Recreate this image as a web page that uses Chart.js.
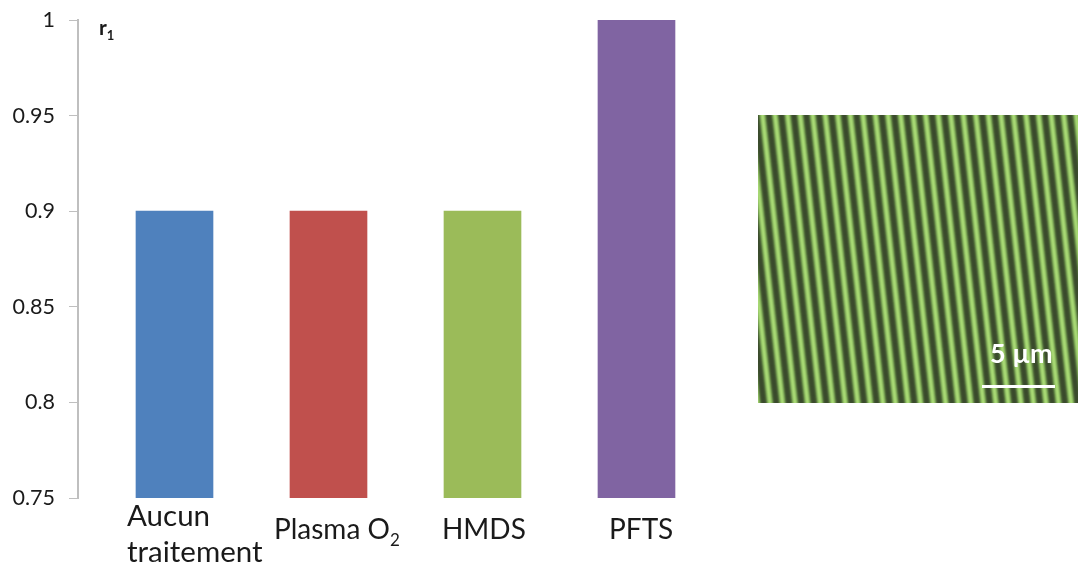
<!DOCTYPE html>
<html><head><meta charset="utf-8">
<style>html,body{margin:0;padding:0;background:#fff}#w{position:relative;width:1078px;height:565px}</style>
<script src="https://cdn.jsdelivr.net/npm/chart.js@4"></script>
</head><body><div id="w"><canvas id="c" width="1078" height="565"></canvas></div>
<script>
const categories = ['Aucun traitement', 'Plasma O2', 'HMDS', 'PFTS'];
const values = [0.9, 0.9, 0.9, 1];
const barColors = ['#4f81bd', '#c0504d', '#9bbb59', '#8064a2'];
const yTicks = [0.75, 0.8, 0.85, 0.9, 0.95, 1];
const FONT = 'Lato, "Open Sans", sans-serif';

function sub(ctx, main, s, x, y, size, weight) {
  ctx.font = (weight || '') + ' ' + size + 'px ' + FONT;
  ctx.textAlign = 'left'; ctx.textBaseline = 'alphabetic';
  ctx.fillText(main, x, y);
  const w = ctx.measureText(main).width;
  ctx.font = (weight || '') + ' ' + Math.round(size * 0.62) + 'px ' + FONT;
  ctx.fillText(s, x + w, y + size * 0.24);
}

const overlay = {
  id: 'overlay',
  afterDraw(chart) {
    const ctx = chart.ctx;
    ctx.save();
    ctx.fillStyle = '#1a1a1a';
    const S = 28, xs = chart.scales.x;
    const p = i => xs.getPixelForValue(i);
    ctx.textBaseline = 'alphabetic'; ctx.textAlign = 'left';
    ctx.font = '29.5px ' + FONT;
    const [a, b] = categories[0].split(' ');
    ctx.fillText(a, p(0) - 47.5, 526);
    ctx.fillText(b, p(0) - 47.5, 562);
    const m = categories[1];
    sub(ctx, m.slice(0, -1), m.slice(-1), p(1) - 54.5, 539, S);
    ctx.font = S + 'px ' + FONT;
    ctx.fillText(categories[2], p(2) - 40.5, 539);
    ctx.fillText(categories[3], p(3) - 27.5, 539);
    sub(ctx, 'r', '1', 99, 35, 21, 'bold');
    ctx.restore();

    // micrograph inset
    ctx.save();
    const X = 758, Y = 115, W = 320, H = 288;
    ctx.beginPath(); ctx.rect(X, Y, W, H); ctx.clip();
    ctx.fillStyle = '#3a4a2c'; ctx.fillRect(X, Y, W, H);
    ctx.filter = 'blur(0.8px)';
    const period = 12.55, slope = 0.113;
    for (let i = -6; i < 30; i++) {
      const x0 = 762.5 + i * period;
      const line = (lw, col) => {
        ctx.strokeStyle = col; ctx.lineWidth = lw; ctx.beginPath();
        ctx.moveTo(x0 - slope * 5, Y - 5); ctx.lineTo(x0 + slope * (H + 5), Y + H + 5); ctx.stroke();
      };
      line(6.5, '#6f9a4c');
      line(3.5, '#b0e27a');
    }
    ctx.filter = 'none';
    ctx.fillStyle = '#fff';
    ctx.font = 'bold 27px ' + FONT;
    ctx.textAlign = 'left';
    ctx.fillText('5 µm', 990, 363);
    ctx.fillRect(982, 385, 73, 3);
    ctx.restore();
  }
};

new Chart(document.getElementById('c'), {
  type: 'bar',
  data: { datasets: [{
    data: categories.map((c, i) => ({ x: i, y: values[i] })),
    backgroundColor: barColors, barThickness: 77, borderWidth: 0
  }]},
  plugins: [overlay],
  options: {
    responsive: false, animation: false,
    layout: { padding: { top: 20, bottom: 67 } },
    plugins: { legend: { display: false }, tooltip: { enabled: false } },
    scales: {
      x: { type: 'linear', offset: false, min: -0.6266, max: 5.867,
        display: false, grid: { display: false } },
      y: { min: 0.75, max: 1,
        afterBuildTicks: s => { s.ticks = yTicks.map(v => ({ value: v })); },
        afterFit: s => { s.width = 78; s.paddingTop = 0; s.paddingBottom = 0; },
        border: { color: '#bfbfbf', width: 2 },
        grid: { drawOnChartArea: false, color: '#bfbfbf', tickLength: 9, tickWidth: 1 },
        ticks: { padding: 14, color: '#1a1a1a', font: { family: FONT, size: 21.5 },
          callback: v => String(v) } }
    }
  }
});
</script></body></html>
